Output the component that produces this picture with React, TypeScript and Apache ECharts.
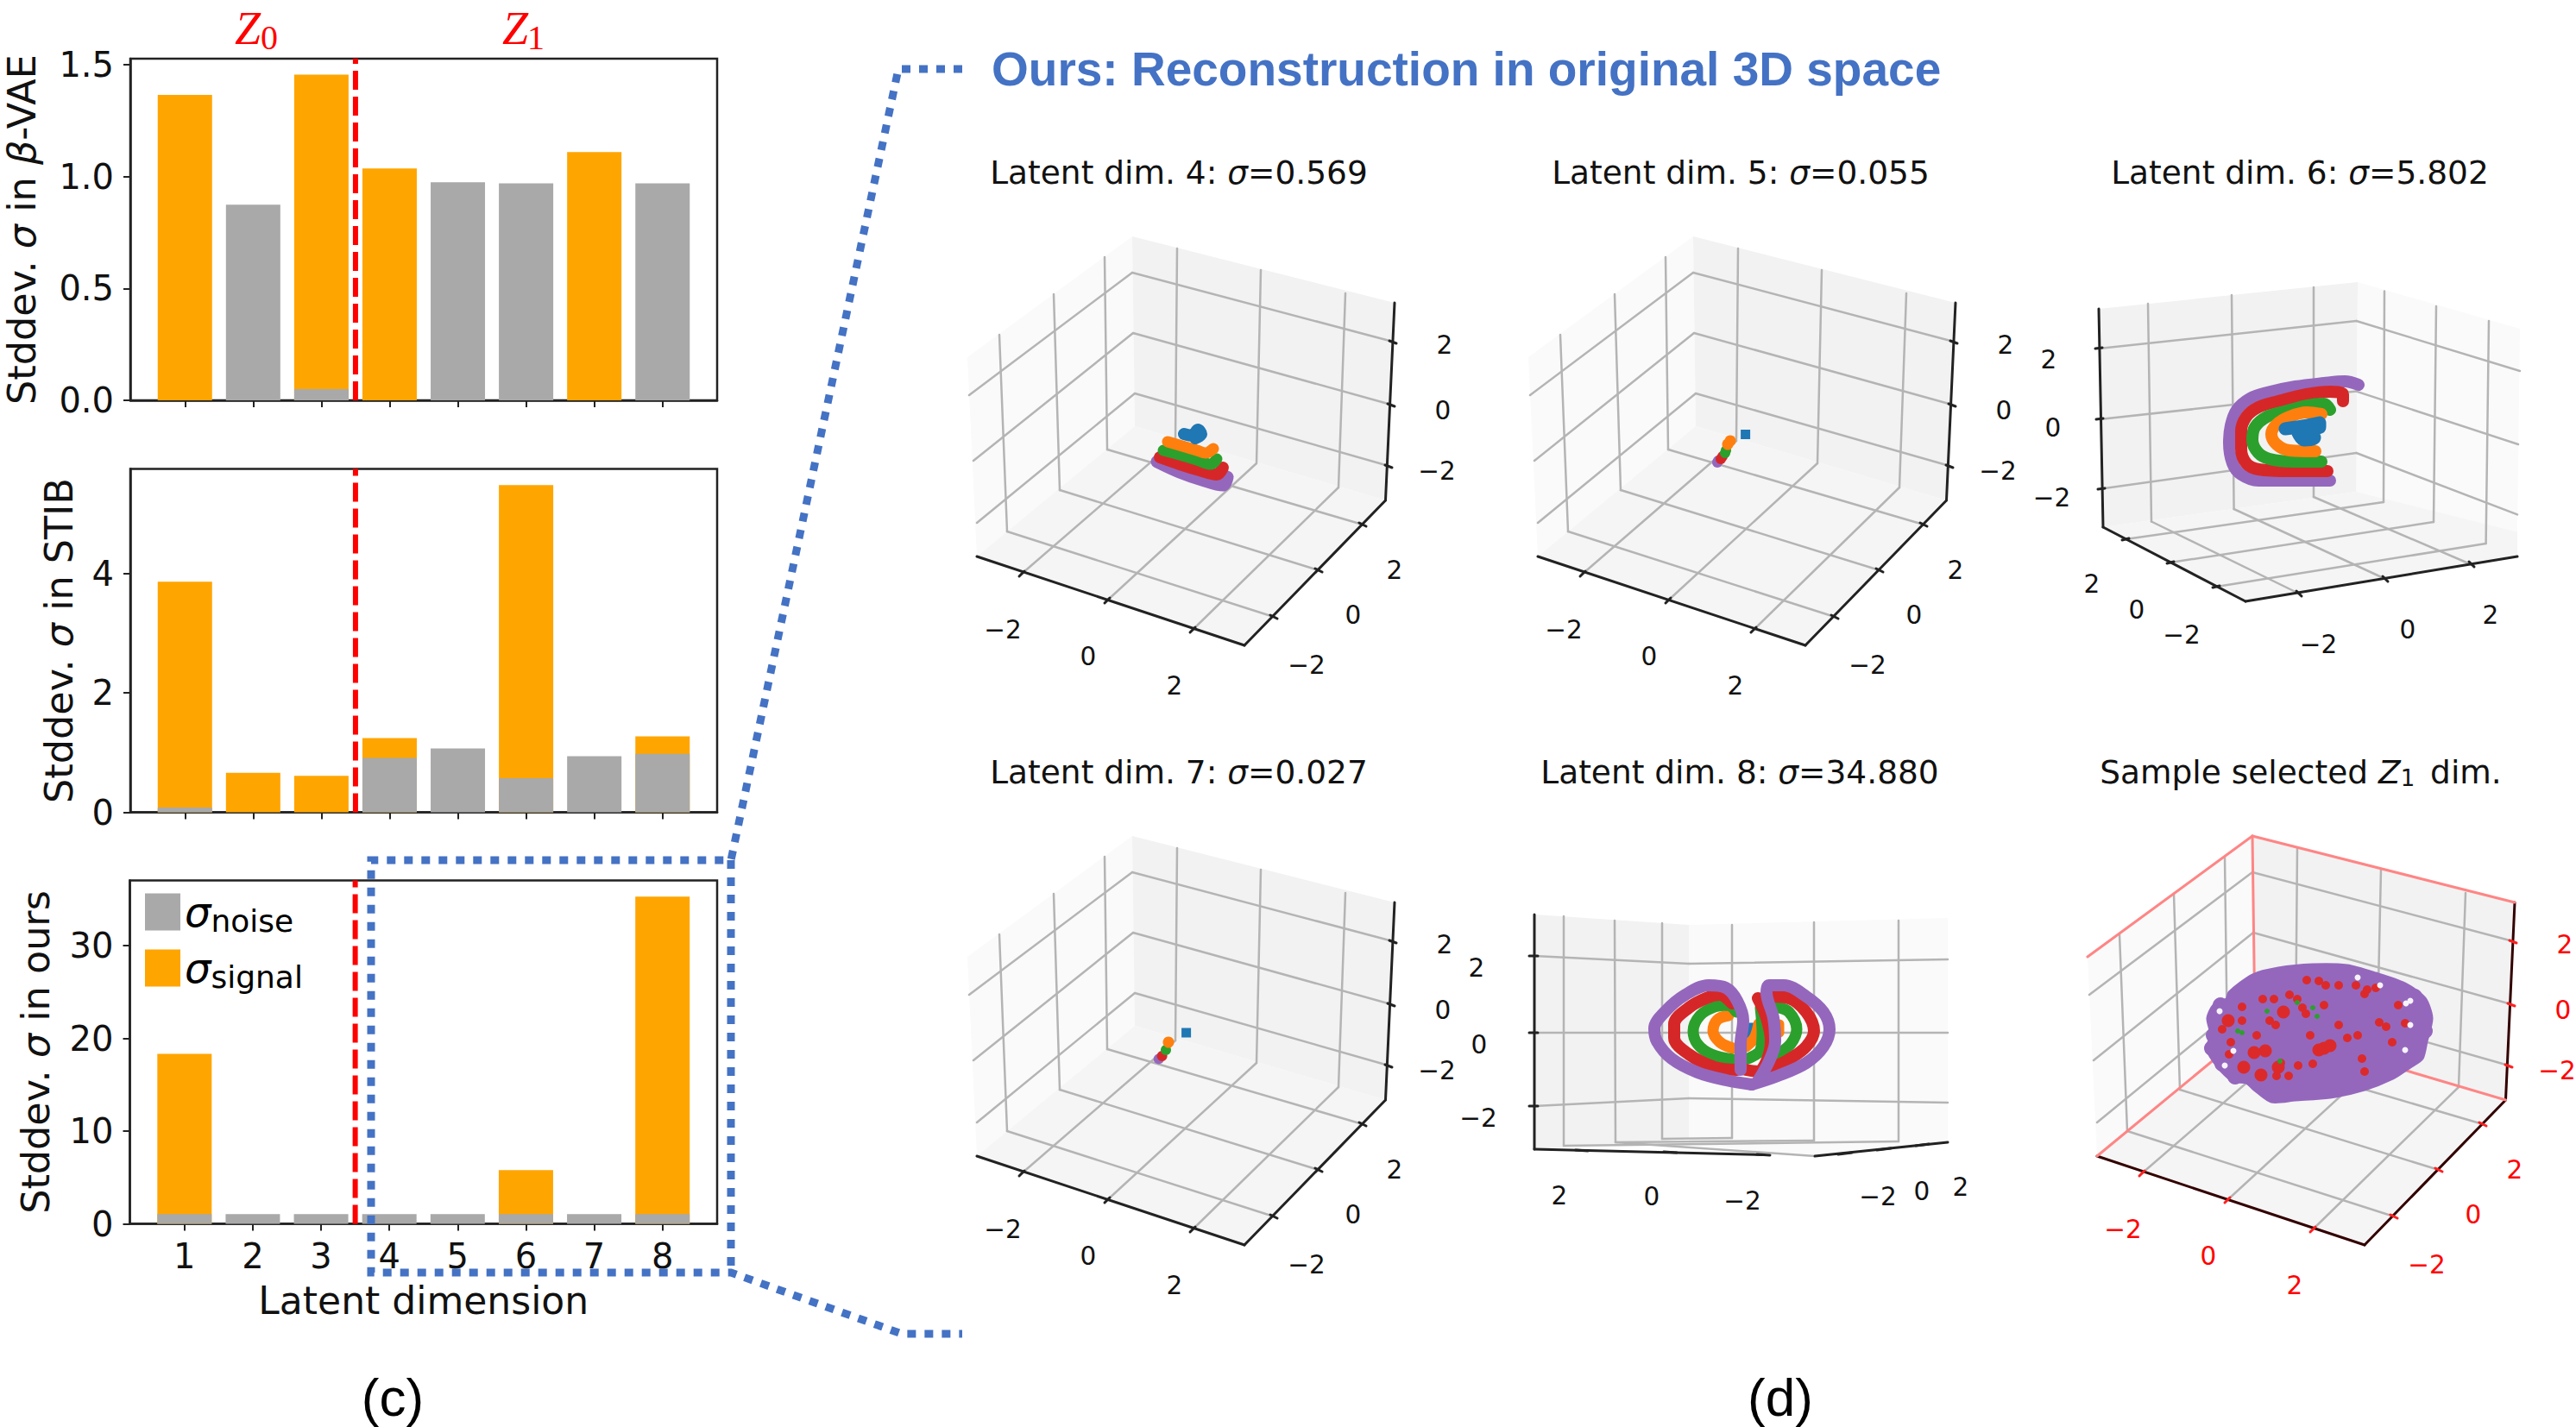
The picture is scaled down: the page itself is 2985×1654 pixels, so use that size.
import React, { useEffect, useRef } from "react";
import * as echarts from "echarts";

type P = number[];

// ---------- Bar panels ----------
const latentDims = [1, 2, 3, 4, 5, 6, 7, 8];
const tickLabelsBeta = [0, 0.5, 1, 1.5];
const tickLabelsStib = [0, 2, 4];
const tickLabelsOurs = [0, 10, 20, 30];
const betaHeights = [1.365, 0, 1.456, 1.036, 0, 0, 1.11, 0];
const betaNoise = [0, 0.874, 0.05, 0, 0.975, 0.97, 0, 0.97];
const stibHeights = [3.86, 0.66, 0.61, 1.244, 0, 5.48, 0, 1.27];
const stibNoise = [0.08, 0, 0, 0.91, 1.07, 0.57, 0.94, 0.977];
const oursHeights = [18.34, 0, 0, 0, 0, 5.8, 0, 35.3];
const oursNoise = [1.04, 1.04, 1.04, 1.04, 1.04, 1.04, 1.04, 1.04];

// ---------- 3D views in each view's own units ----------
const tickNames3d = ["−2", "0", "2"];
const stdPanes = [
  { fill: "#fafafa", pts: [[21, 154], [212, 14], [215, 234], [32, 385]] },
  { fill: "#f2f2f2", pts: [[212, 14], [516, 91], [505.5, 320], [215, 234]] },
  { fill: "#f5f5f5", pts: [[215, 234], [505.5, 320], [342, 488], [32, 385]] },
];
const stdGrid = [
  [[23, 198], [212, 56], [514, 136]],
  [[28, 274], [213, 126], [512, 209]],
  [[32, 346], [215, 196], [509, 280]],
  [[58, 128], [67, 356], [376, 455]],
  [[121, 81], [128, 308], [428, 401]],
  [[180, 38], [183, 261], [479, 348]],
  [[264, 28], [262, 251], [84, 405]],
  [[361, 53], [356, 277], [183, 436]],
  [[459, 80], [451, 305], [282, 470]],
];
const stdAxes = [[[32, 385], [342, 488], [505.5, 320], [516, 91]]];
const stdTicks = [
  [[81, 408], [87, 402]], [[180, 439], [186, 433]], [[279, 473], [285, 467]],
  [[372, 453], [380, 457]], [[424, 399], [432, 403]], [[475, 346], [483, 350]],
  [[510, 135], [518, 138]], [[508, 208], [516, 211]], [[505, 279], [513, 282]],
];
const stdLabels = [
  [62, 470], [161, 501], [261, 535],
  [414, 511], [468, 453], [516, 401],
  [565, 286], [572, 216], [574, 140],
];
const sampleSpines = [
  [[21, 154], [212, 14], [516, 91]],
  [[212, 14], [215, 234]],
  [[215, 234], [505.5, 320]],
  [[215, 234], [32, 385]],
];

const view6Panes = [
  { fill: "#f2f2f2", pts: [[82, 98], [382, 67], [380.5, 310], [87, 351]] },
  { fill: "#fafafa", pts: [[382, 67], [570, 121], [567, 356.5], [380.5, 310]] },
  { fill: "#f5f5f5", pts: [[87, 351], [380.5, 310], [567, 356.5], [567, 385], [252, 437]] },
];
const view6Grid = [
  [[82, 144], [380.5, 112], [570, 170]],
  [[83, 226], [380.5, 193.6], [568, 255]],
  [[85, 306.5], [380.5, 265], [567, 336.4]],
  [[139, 92], [143, 344.5], [314, 428]],
  [[236, 82], [238.6, 330], [414, 411]],
  [[331, 73], [331, 316], [514, 394.5]],
  [[413, 77.5], [412, 322], [113, 365]],
  [[473, 95], [470, 345], [165, 392]],
  [[534, 112], [530.6, 370], [218.5, 420]],
];
const view6Axes = [[[82, 98], [87, 351], [252, 437], [567, 385]]];
const view6Ticks = [
  [[78, 144], [86, 143]], [[79, 226], [87, 225]], [[81, 307], [89, 306]],
  [[109, 366], [117, 364]], [[161, 393], [169, 391]], [[214, 421], [222, 419]],
  [[311, 425], [317, 431]], [[411, 408], [417, 414]], [[511, 391], [517, 397]],
];
const view6Labels = [
  [178, 476], [126, 447], [74, 417],
  [336.5, 487], [440, 469.5], [536, 453],
  [27.5, 317], [29, 236], [24, 157],
];

const view8Panes = [
  { fill: "#f2f2f2", pts: [[28, 105], [207, 117], [207, 365], [28, 377]] },
  { fill: "#fafafa", pts: [[207, 117], [507, 109], [507, 369], [353, 385], [207, 372]] },
];
const view8Grid = [
  [[28, 153], [207, 162], [507, 157]],
  [[28, 242], [507, 242]],
  [[28, 327], [207, 318], [507, 323]],
  [[62, 107], [62, 373]],
  [[121, 112], [122, 369], [353, 385]],
  [[176, 115], [176, 365], [257, 364]],
  [[257, 117], [257, 364]],
  [[352, 114], [352, 367], [122, 369]],
  [[450, 112], [450, 368], [62, 373]],
];
const view8Axes = [[[28, 105], [28, 377], [293, 383.5]], [[353, 385], [507, 369]]];
const view8Ticks = [
  [[22, 153], [32, 153]], [[22, 242], [32, 242]], [[22, 327], [32, 327]],
  [[76, 378], [90, 379]], [[178, 380], [193, 381]], [[286, 383], [301, 384]],
  [[380, 383], [396, 381]], [[425, 378], [441, 376]], [[470, 373], [485, 371]],
];
const view8Labels = [
  [269, 437], [164, 432], [57, 431],
  [426, 432], [477, 426], [522, 421],
  [-37, 341], [-36, 255.5], [-39, 167],
];

// Reconstruction bands, one list per colour
const dim4Blue = [[272, 243], [282, 245], [288, 238], [292, 243], [285, 248]];
const dim4Orange = [[253, 252], [270, 257], [287, 262], [297, 265], [306, 260]];
const dim4Green = [[248, 262], [267, 267], [287, 273], [303, 278], [310, 272]];
const dim4Red = [[244, 270], [267, 278], [290, 285], [310, 290], [317, 282]];
const dim4Purple = [[241, 275], [267, 287], [293, 296], [317, 302], [322, 293]];

const dim5Blue = [[272.6, 243.5]];
const dim5Orange = [[255, 251], [252, 255]];
const dim5Green = [[250, 262], [249, 265]];
const dim5Red = [[246, 269], [244, 272]];
const dim5Purple = [[241, 274], [240, 276]];

const dim7Blue = [[274.6, 242]];
const dim7Orange = [[254, 253]];
const dim7Green = [[251, 262]];
const dim7Red = [[246.6, 269]];
const dim7Purple = [[242.7, 272.4]];

const dim6Purple = [[383, 186], [367, 182], [343, 184], [310, 188], [277, 195], [257, 202], [242, 215], [235, 233], [233, 253], [237, 277], [247, 290], [267, 297], [303, 297], [350, 297]];
const dim6Red = [[365, 205], [365, 197], [350, 194], [323, 197], [290, 205], [267, 212], [253, 223], [247, 240], [247, 260], [253, 277], [267, 284], [303, 286], [347, 286]];
const dim6Green = [[350, 215], [343, 208], [323, 210], [297, 217], [277, 223], [263, 235], [260, 250], [267, 265], [280, 272], [307, 275], [340, 275]];
const dim6Orange = [[340, 220], [323, 218], [303, 223], [288, 232], [282, 243], [288, 255], [303, 262], [333, 263]];
const dim6Blue = [[298, 237], [318, 234], [338, 230], [338, 235], [325, 238], [332, 247], [320, 250], [313, 242]];

const dim8Blue = [[277, 235], [283, 235], [277, 245]];
const dim8OrangeA = [[258, 260], [243, 253], [235, 240], [240, 227], [253, 222]];
const dim8OrangeB = [[288, 232], [283, 248], [273, 258]];
const dim8OrangeC = [[312, 232], [312, 242]];
const dim8GreenA = [[258, 273], [233, 267], [217, 255], [212, 240], [220, 222], [237, 212], [253, 210], [262, 218]];
const dim8GreenB = [[308, 212], [323, 218], [332, 238], [325, 255], [310, 267]];
const dim8GreenC = [[290, 213], [292, 242], [290, 262], [273, 273]];
const dim8RedA = [[263, 285], [237, 282], [207, 267], [190, 248], [190, 232], [207, 213], [227, 202], [243, 198], [257, 208]];
const dim8RedB = [[303, 200], [323, 202], [343, 218], [352, 240], [343, 258], [323, 273], [303, 283]];
const dim8RedC = [[287, 202], [297, 225], [302, 252], [297, 275], [287, 287], [273, 285]];
const dim8PurpleA = [[280, 302], [250, 297], [217, 288], [187, 272], [170, 252], [167, 237], [180, 217], [203, 198], [230, 187], [250, 190], [263, 205], [270, 228], [267, 255], [267, 285]];
const dim8PurpleB = [[280, 302], [310, 292], [343, 277], [363, 258], [370, 238], [363, 218], [343, 200], [317, 187], [300, 187], [297, 195], [305, 225], [307, 252], [300, 275], [287, 298]];

const cloudOutline = [[160, 225], [167, 210], [182, 203], [185, 195], [212, 175], [242, 167], [282, 163], [322, 164], [355, 173], [389, 185], [412, 202], [420, 225], [414, 252], [409, 272], [395, 282], [375, 295], [342, 308], [302, 317], [262, 320], [234, 322], [214, 308], [205, 300], [189, 298], [172, 282], [159, 260], [164, 245]];
const cloudRim = [[170, 225], [167, 245], [165, 260], [177, 278], [192, 293], [175, 210], [400, 200], [412, 240]];
const cloudRedLarge = [[184, 228], [248, 218], [222, 291], [202, 282], [227, 263], [214, 265], [242, 282], [295, 260], [289, 262], [302, 257]];
const cloudRedSmall = [[177, 238], [200, 212], [224, 203], [200, 228], [232, 228], [239, 233], [255, 198], [264, 203], [270, 213], [274, 220], [295, 210], [279, 245], [275, 181], [289, 182], [297, 187], [312, 187], [332, 187], [345, 192], [355, 190], [342, 197], [381, 210], [389, 231], [359, 230], [367, 235], [374, 253], [339, 272], [342, 287], [322, 248], [334, 245], [312, 233], [265, 280], [245, 277], [237, 203], [187, 253], [217, 245], [240, 292], [254, 292], [282, 278], [185, 267]];
const cloudGreen = [[200, 242], [195, 240], [229, 217], [282, 213], [287, 223], [264, 207], [244, 275]];
const cloudGaps = [[174, 217], [190, 263], [180, 280], [395, 205], [390, 208], [395, 233], [389, 262], [334, 178], [360, 187]];

// ---------- Styles and layout ----------
const SANS = "DejaVu Sans";
const ORANGE = "#ffa500";
const GRAY = "#a9a9a9";
const BAR_RED = "#ff0000";
const ACCENT = "#4472c4";
const C = { blue: "#1f77b4", orange: "#ff7f0e", green: "#2ca02c", red: "#d62728", purple: "#9467bd" };

const barPanels = [
  { left: 151, top: 68, width: 680, height: 396, max: 1.527, ticks: tickLabelsBeta, totals: betaHeights, noise: betaNoise, name: "Stddev. {i|σ} in {i|β}-VAE", gap: 103, decimals: 1 },
  { left: 151, top: 543.5, width: 680, height: 398, max: 5.75, ticks: tickLabelsStib, totals: stibHeights, noise: stibNoise, name: "Stddev. {i|σ} in STIB", gap: 60, decimals: 0 },
  { left: 150.5, top: 1020.5, width: 680.5, height: 398, max: 37.05, ticks: tickLabelsOurs, totals: oursHeights, noise: oursNoise, name: "Stddev. {i|σ} in ours", gap: 87, decimals: 0 },
];

const VIEW_W = 640;
const VIEW_H = 560;
const XMIN = -60;

function segments(polys: P[][]) {
  const out: number[][] = [];
  polys.forEach((poly) => {
    for (let i = 0; i + 1 < poly.length; i++) out.push([poly[i][0], poly[i][1], poly[i + 1][0], poly[i + 1][1]]);
  });
  return out;
}

function segSeries(gi: number, polys: P[][], color: string, width: number, z: number) {
  return {
    type: "custom", xAxisIndex: gi, yAxisIndex: gi, silent: true, clip: false, z,
    data: segments(polys), encode: { x: [0, 2], y: [1, 3] },
    renderItem: (_: any, api: any) => {
      const a = api.coord([api.value(0), api.value(1)]);
      const b = api.coord([api.value(2), api.value(3)]);
      return { type: "line", shape: { x1: a[0], y1: a[1], x2: b[0], y2: b[1] }, style: { stroke: color, lineWidth: width, lineCap: "round", fill: null } };
    },
  };
}

function paneSeries(gi: number, pts: P[], fill: string, z: number, stroke?: string) {
  return {
    type: "custom", xAxisIndex: gi, yAxisIndex: gi, silent: true, clip: false, z,
    data: pts, encode: { x: 0, y: 1 },
    renderItem: (params: any, api: any) => {
      if (params.dataIndex !== 0) return null;
      return {
        type: "polygon", shape: { points: pts.map((p) => api.coord(p)), smooth: stroke ? 0.25 : 0 },
        style: { fill, stroke: stroke || null, lineWidth: stroke ? 3 : 0, lineJoin: "round" },
      };
    },
  };
}

function labelSeries(gi: number, pts: P[], color: string) {
  return {
    type: "custom", xAxisIndex: gi, yAxisIndex: gi, silent: true, clip: false, z: 6,
    data: pts, encode: { x: 0, y: 1 },
    renderItem: (params: any, api: any) => {
      const c = api.coord([api.value(0), api.value(1)]);
      return { type: "text", x: c[0], y: c[1], style: { text: tickNames3d[params.dataIndex % 3], fill: color, fontFamily: SANS, fontSize: 29.5, align: "center", verticalAlign: "middle" } };
    },
  };
}

function band(gi: number, pts: P[], color: string, width: number, z: number) {
  return {
    type: "line", xAxisIndex: gi, yAxisIndex: gi, data: pts, smooth: 0.35, silent: true, clip: false, z,
    showSymbol: false, lineStyle: { color, width, cap: "round", join: "round" },
  };
}

function dots(gi: number, pts: P[], color: string, size: number, z: number, symbol = "circle") {
  return {
    type: "scatter", xAxisIndex: gi, yAxisIndex: gi, data: pts, symbol, symbolSize: size, silent: true, clip: false, z,
    itemStyle: { color, opacity: 1 },
  };
}

function frame3d(gi: number, g: any, axisColor: string, tickColor: string, labelColor: string) {
  const s: any[] = [];
  g.panes.forEach((p: any) => s.push(paneSeries(gi, p.pts, p.fill, 2)));
  s.push(segSeries(gi, g.grid, "#b4b4b4", 2.5, 3));
  s.push(segSeries(gi, g.axes, axisColor, 3, 4));
  s.push(segSeries(gi, g.ticks, tickColor, 3, 4));
  s.push(labelSeries(gi, g.labels, labelColor));
  return s;
}

const stdGeo = { panes: stdPanes, grid: stdGrid, axes: stdAxes, ticks: stdTicks, labels: stdLabels };
const view6Geo = { panes: view6Panes, grid: view6Grid, axes: view6Axes, ticks: view6Ticks, labels: view6Labels };
const view8Geo = { panes: view8Panes, grid: view8Grid, axes: view8Axes, ticks: view8Ticks, labels: view8Labels };

const viewOrigins = [
  [1100, 260], [1750, 260], [2350, 260],
  [1100, 955], [1750, 955], [2398, 955],
];

function panelTitle(text: string, left: number, top: number) {
  return {
    text, left, top, padding: 0, textAlign: "center", textVerticalAlign: "middle",
    textStyle: {
      fontFamily: SANS, fontSize: 37.5, fontWeight: "normal", color: "#111",
      rich: {
        i: { fontFamily: SANS, fontSize: 37.5, fontStyle: "italic", color: "#111" },
        s: { fontFamily: SANS, fontSize: 26, color: "#111", padding: [14, 6, 0, 0] },
      },
    },
  };
}

function redLetter(text: string, left: number, top: number, size: number, italic: boolean) {
  return {
    text, left, top, padding: 0, textAlign: "center", textVerticalAlign: "middle",
    textStyle: { fontFamily: "Liberation Serif", fontSize: size, fontWeight: "normal", fontStyle: italic ? "italic" : "normal", color: "#ff0000" },
  };
}

function buildOption() {
  const grids: any[] = [];
  const xAxes: any[] = [];
  const yAxes: any[] = [];
  const series: any[] = [];

  barPanels.forEach((p, i) => {
    grids.push({ left: p.left, top: p.top, width: p.width, height: p.height, show: true, borderColor: "#222", borderWidth: 2.5, backgroundColor: "#fff", containLabel: false });
    const isLast = i === 2;
    xAxes.push({
      type: "value", gridIndex: i, min: 0.2, max: 8.8, splitLine: { show: false },
      axisLine: { show: true, lineStyle: { color: "#222", width: 2.5 } },
      axisTick: { show: true, length: 8, customValues: latentDims, lineStyle: { color: "#222", width: 2 } },
      axisLabel: { show: isLast, customValues: latentDims, margin: 17, color: "#111", fontFamily: SANS, fontSize: 40 },
      name: isLast ? "Latent dimension" : "", nameLocation: "middle", nameGap: 67,
      nameTextStyle: { color: "#111", fontFamily: SANS, fontSize: 44 },
    });
    yAxes.push({
      type: "value", gridIndex: i, min: 0, max: p.max, splitLine: { show: false },
      axisLine: { show: true, lineStyle: { color: "#222", width: 2.5 } },
      axisTick: { show: true, length: 8, customValues: p.ticks, lineStyle: { color: "#222", width: 2 } },
      axisLabel: { customValues: p.ticks, margin: 19, color: "#111", fontFamily: SANS, fontSize: 40, formatter: (v: number) => v.toFixed(p.decimals) },
      name: p.name, nameLocation: "middle", nameGap: p.gap,
      nameTextStyle: {
        color: "#111", fontFamily: SANS, fontSize: 44.5,
        rich: { i: { fontFamily: SANS, fontSize: 44.5, fontStyle: "italic", color: "#111" } },
      },
    });
    series.push({
      type: "bar", name: "σsignal", xAxisIndex: i, yAxisIndex: i, barWidth: 63, barGap: "-100%", z: 2,
      data: latentDims.map((d, k) => [d, p.totals[k]]), itemStyle: { color: ORANGE },
    });
    series.push({
      type: "bar", name: "σnoise", xAxisIndex: i, yAxisIndex: i, barWidth: 63, barGap: "-100%", z: 3,
      data: latentDims.map((d, k) => [d, p.noise[k]]), itemStyle: { color: GRAY },
    });
    series.push({
      type: "line", xAxisIndex: i, yAxisIndex: i, data: [[3.5, 0], [3.5, p.max]], showSymbol: false, silent: true, z: 4,
      lineStyle: { color: BAR_RED, width: 6, type: [22, 8] },
    });
  });

  viewOrigins.forEach((o, k) => {
    const gi = 3 + k;
    grids.push({ left: o[0] + XMIN, top: o[1], width: VIEW_W, height: VIEW_H, show: false });
    xAxes.push({ type: "value", gridIndex: gi, min: XMIN, max: XMIN + VIEW_W, show: false });
    yAxes.push({ type: "value", gridIndex: gi, min: 0, max: VIEW_H, inverse: true, show: false });
  });

  // Latent dim. 4
  series.push(...frame3d(3, stdGeo, "#222", "#222", "#111"));
  series.push(band(3, dim4Purple, C.purple, 15, 10), band(3, dim4Red, C.red, 14, 11), band(3, dim4Green, C.green, 13, 12), band(3, dim4Orange, C.orange, 13, 13), band(3, dim4Blue, C.blue, 14, 14));
  // Latent dim. 5
  series.push(...frame3d(4, stdGeo, "#222", "#222", "#111"));
  series.push(dots(4, dim5Purple, C.purple, 12, 10), dots(4, dim5Red, C.red, 12, 11), dots(4, dim5Green, C.green, 12, 12), dots(4, dim5Orange, C.orange, 13, 13), dots(4, dim5Blue, C.blue, 11, 14, "rect"));
  // Latent dim. 6
  series.push(...frame3d(5, view6Geo, "#222", "#222", "#111"));
  series.push(band(5, dim6Purple, C.purple, 14, 10), band(5, dim6Red, C.red, 14, 11), band(5, dim6Green, C.green, 14, 12), band(5, dim6Orange, C.orange, 14, 13), band(5, dim6Blue, C.blue, 15, 14));
  // Latent dim. 7
  series.push(...frame3d(6, stdGeo, "#222", "#222", "#111"));
  series.push(dots(6, dim7Purple, C.purple, 12, 10), dots(6, dim7Red, C.red, 12, 11), dots(6, dim7Green, C.green, 12, 12), dots(6, dim7Orange, C.orange, 13, 13), dots(6, dim7Blue, C.blue, 11, 14, "rect"));
  // Latent dim. 8
  series.push(...frame3d(7, view8Geo, "#222", "#222", "#111"));
  series.push(
    band(7, dim8Blue, C.blue, 9, 10), band(7, dim8OrangeC, C.orange, 11, 10), band(7, dim8OrangeA, C.orange, 13, 11), band(7, dim8OrangeB, C.orange, 13, 11),
    band(7, dim8GreenA, C.green, 13, 12), band(7, dim8GreenB, C.green, 13, 12), band(7, dim8GreenC, C.green, 13, 12),
    band(7, dim8RedA, C.red, 14, 13), band(7, dim8RedB, C.red, 14, 13), band(7, dim8RedC, C.red, 14, 14),
    band(7, dim8PurpleA, C.purple, 14, 15), band(7, dim8PurpleB, C.purple, 14, 15),
  );
  // Sample selected
  series.push(...frame3d(8, stdGeo, "#300", "#ff2020", "#ff0000"));
  series.push(segSeries(8, sampleSpines, "#ff8585", 3, 4));
  series.push(paneSeries(8, cloudOutline, C.purple, 10, C.purple));
  series.push(dots(8, cloudRim, C.purple, 18, 10));
  series.push(dots(8, cloudRedSmall, "#dc2a2a", 10, 11), dots(8, cloudRedLarge, "#dc2a2a", 15, 11), dots(8, cloudGreen, C.green, 6, 12), dots(8, cloudGaps, "#f6f3fa", 7, 12));

  const titles: any[] = [
    panelTitle("Latent dim. 4: {i|σ}=0.569", 1366, 200),
    panelTitle("Latent dim. 5: {i|σ}=0.055", 2017, 200),
    panelTitle("Latent dim. 6: {i|σ}=5.802", 2665, 200),
    panelTitle("Latent dim. 7: {i|σ}=0.027", 1366, 895),
    panelTitle("Latent dim. 8: {i|σ}=34.880", 2016, 895),
    panelTitle("Sample selected {i|Z}{s|1} dim.", 2666, 895),
    { text: "Ours: Reconstruction in original 3D space", left: 1149, top: 80, padding: 0, textVerticalAlign: "middle", textStyle: { fontFamily: "Liberation Sans", fontWeight: "bold", fontSize: 55, color: ACCENT } },
    { text: "(c)", left: 455, top: 1619, padding: 0, textAlign: "center", textVerticalAlign: "middle", textStyle: { fontFamily: "Liberation Sans", fontWeight: "normal", fontSize: 62, color: "#000" } },
    { text: "(d)", left: 2063, top: 1619, padding: 0, textAlign: "center", textVerticalAlign: "middle", textStyle: { fontFamily: "Liberation Sans", fontWeight: "normal", fontSize: 62, color: "#000" } },
    redLetter("Z", 287, 33, 54, true),
    redLetter("0", 312, 43, 40, false),
    redLetter("Z", 597, 33, 54, true),
    redLetter("1", 621, 43, 40, false),
  ];

  const dotted = (points: number[][]) => ({
    type: "polyline", silent: true, z: 100, shape: { points },
    style: { stroke: ACCENT, lineWidth: 9, lineDash: [10, 10], fill: null },
  });

  return {
    animation: false,
    backgroundColor: "#fff",
    title: titles,
    grid: grids,
    xAxis: xAxes,
    yAxis: yAxes,
    series,
    legend: {
      data: ["σnoise", "σsignal"], orient: "vertical", left: 168, top: 1033, padding: 0, itemWidth: 41, itemHeight: 43, itemGap: 13, itemTextGap: 16, icon: "rect",
      selectedMode: false,
      formatter: (n: string) => `{s|σ}{n|${n.slice(1)}}`,
      textStyle: {
        rich: {
          s: { fontFamily: SANS, fontSize: 48, fontStyle: "italic", color: "#000" },
          n: { fontFamily: SANS, fontSize: 36, color: "#000", padding: [20, 0, 0, 0] },
        },
      },
    },
    graphic: [
      dotted([[1115, 80], [1041, 80], [847, 997], [430, 997], [430, 1475], [847, 1475], [1045, 1546], [1115, 1546]]),
      dotted([[847, 997], [847, 1475]]),
    ],
  };
}

export default function App() {
  const ref = useRef<HTMLDivElement>(null);
  useEffect(() => {
    document.body.style.margin = "0";
    const chart = echarts.init(ref.current as HTMLDivElement, undefined, { renderer: "svg" });
    chart.setOption(buildOption() as any);
    return () => chart.dispose();
  }, []);
  return <div ref={ref} style={{ width: 2985, height: 1654 }} />;
}
